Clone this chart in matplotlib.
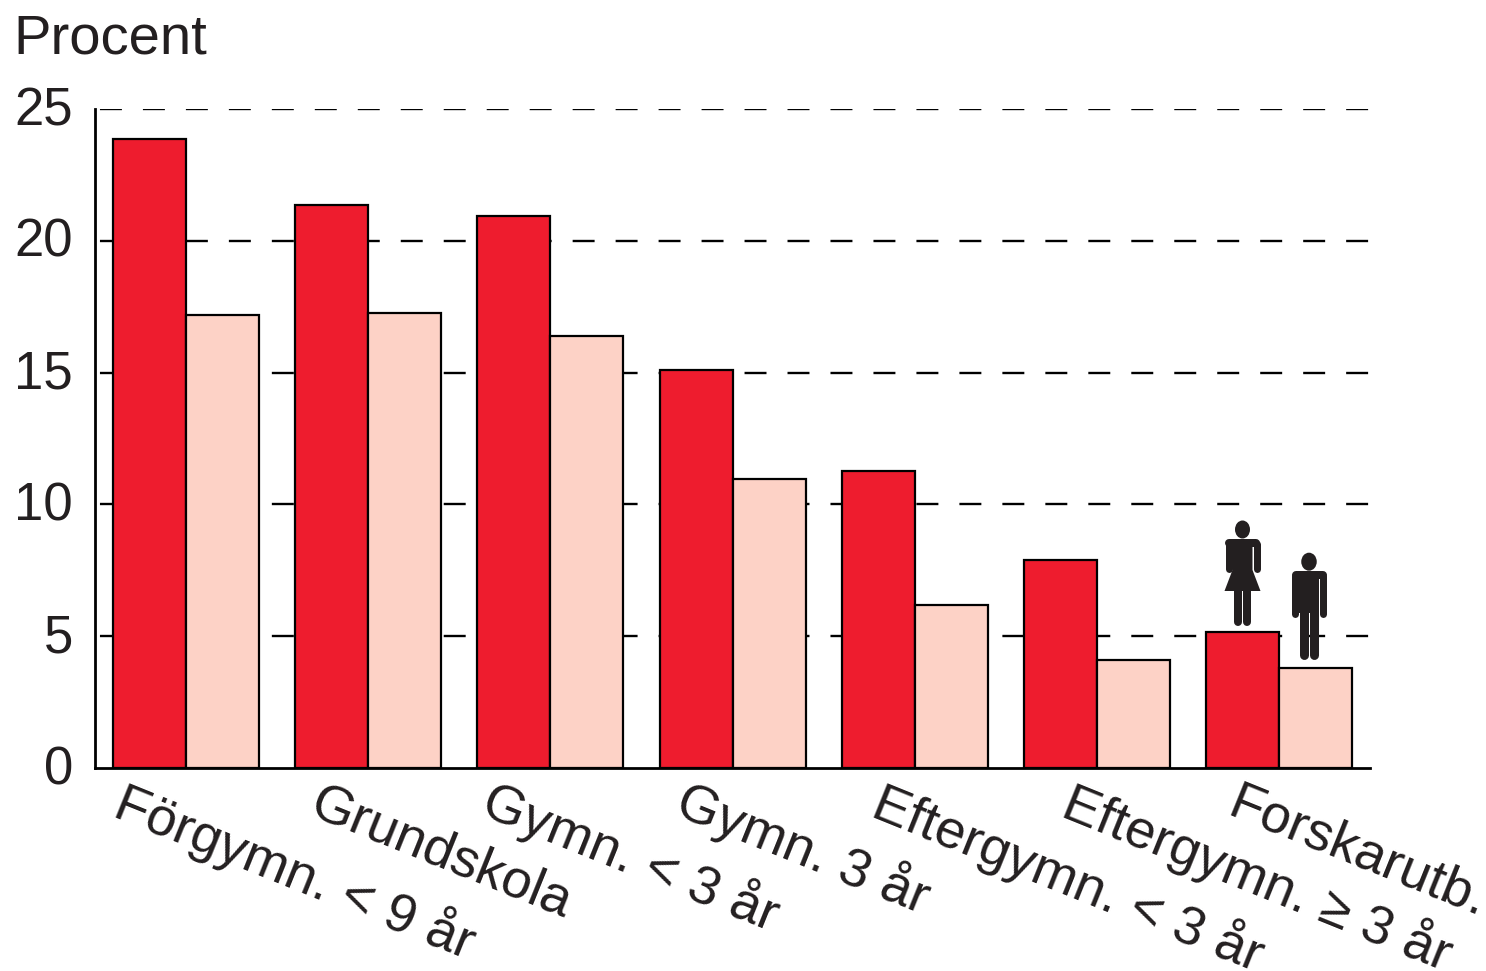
import matplotlib
matplotlib.use('Agg')
import numpy as np
from matplotlib import pyplot as plt
from matplotlib.patches import Ellipse, Polygon

plt.rcParams['font.family'] = ['Liberation Sans', 'DejaVu Sans']

categories = ['Förgymn. < 9 år', 'Grundskola', 'Gymn. < 3 år', 'Gymn. 3 år',
              'Eftergymn. < 3 år', 'Eftergymn. ≥ 3 år', 'Forskarutb.']
women = [23.85, 21.35, 20.95, 15.1, 11.25, 7.9, 5.15]
men = [17.2, 17.25, 16.4, 10.95, 6.2, 4.1, 3.8]
y_ticks = [0, 5, 10, 15, 20, 25]

W, H = 1486, 971
INK = '#231f20'
fig = plt.figure(figsize=(W / 100, H / 100), dpi=100)
ax = fig.add_axes([95 / W, 1 - 768 / H, (1370 - 95) / W, (768 - 109) / H])

x = np.arange(len(categories))
bar_w = 73 / 182.2
ax.set_xlim((95 - 186) / 182.2, (1370 - 186) / 182.2)
ax.set_ylim(0, 25)

ax.bar(x - bar_w / 2, women, bar_w, color='#ee1c2e', edgecolor='black', linewidth=1.6, zorder=3)
ax.bar(x + bar_w / 2, men, bar_w, color='#fdd2c6', edgecolor='black', linewidth=1.6, zorder=3)

# dashes are about 22 px on, 21 px off
for v in y_ticks[1:]:
    ax.axhline(v, color='black', linewidth=1.7, linestyle=(16.1, (9.3, 8.9)), zorder=1)

for s in ['top', 'right']:
    ax.spines[s].set_visible(False)
for s in ['left', 'bottom']:
    ax.spines[s].set_linewidth(2)
ax.spines['bottom'].set_zorder(5)

ax.set_yticks(y_ticks)
ax.tick_params(axis='y', length=0, labelleft=False)
ax.set_xticks([])
for v in y_ticks:
    ax.annotate(str(v), (0, v), xycoords=('axes fraction', 'data'), xytext=(-16, -1.5),
                textcoords='offset points', ha='right', va='center', fontsize=38, color=INK)

label_x = [128, 322, 496, 690, 886, 1076, 1240]
label_y = [775, 778, 773, 773, 775, 775, 778]
for lab_x, lab_y, c in zip(label_x, label_y, categories):
    fig.text(lab_x / W, 1 - lab_y / H, c, rotation=-22, rotation_mode='anchor', fontsize=39,
             color=INK, ha='left', va='top')
fig.text(13 / W, 1 - 40 / H, 'Procent', fontsize=40.5, color=INK, ha='left', va='center')

# overlay in pixel coordinates for the two pictograms
pic = fig.add_axes([0, 0, 1, 1], zorder=10)
pic.set_xlim(0, W)
pic.set_ylim(H, 0)
pic.axis('off')


def limb(x0, y0, x1, y1, w):
    pic.plot([x0, x1], [y0, y1], color=INK, lw=w * 0.72, solid_capstyle='round')


def woman(cx):
    pic.add_patch(Ellipse((cx, 529.5), 15, 18, color=INK, lw=0))
    pic.add_patch(Polygon([(cx - 10, 539), (cx + 10, 539), (cx + 10, 570), (cx + 18, 591),
                           (cx - 18, 591), (cx - 10, 570)], color=INK, lw=0))
    limb(cx - 14, 544, cx - 14, 569, 7)
    limb(cx + 14, 544, cx + 14, 569, 7)
    limb(cx - 13.5, 543, cx + 13.5, 543, 8)
    limb(cx - 4.5, 590, cx - 4.5, 622, 8)
    limb(cx + 4.5, 590, cx + 4.5, 622, 8)


def man(cx):
    pic.add_patch(Ellipse((cx, 561.7), 15.5, 18, color=INK, lw=0))
    pic.add_patch(Polygon([(cx - 10, 571), (cx + 10, 571), (cx + 10, 613), (cx - 10, 613)], color=INK, lw=0))
    limb(cx - 14, 576, cx - 14, 614, 7)
    limb(cx + 14, 576, cx + 14, 614, 7)
    limb(cx - 13.5, 575, cx + 13.5, 575, 8)
    limb(cx - 5, 612, cx - 5, 655, 9)
    limb(cx + 5, 612, cx + 5, 655, 9)


woman(1242.5)
man(1309)

fig.savefig('out.png', dpi=100)
